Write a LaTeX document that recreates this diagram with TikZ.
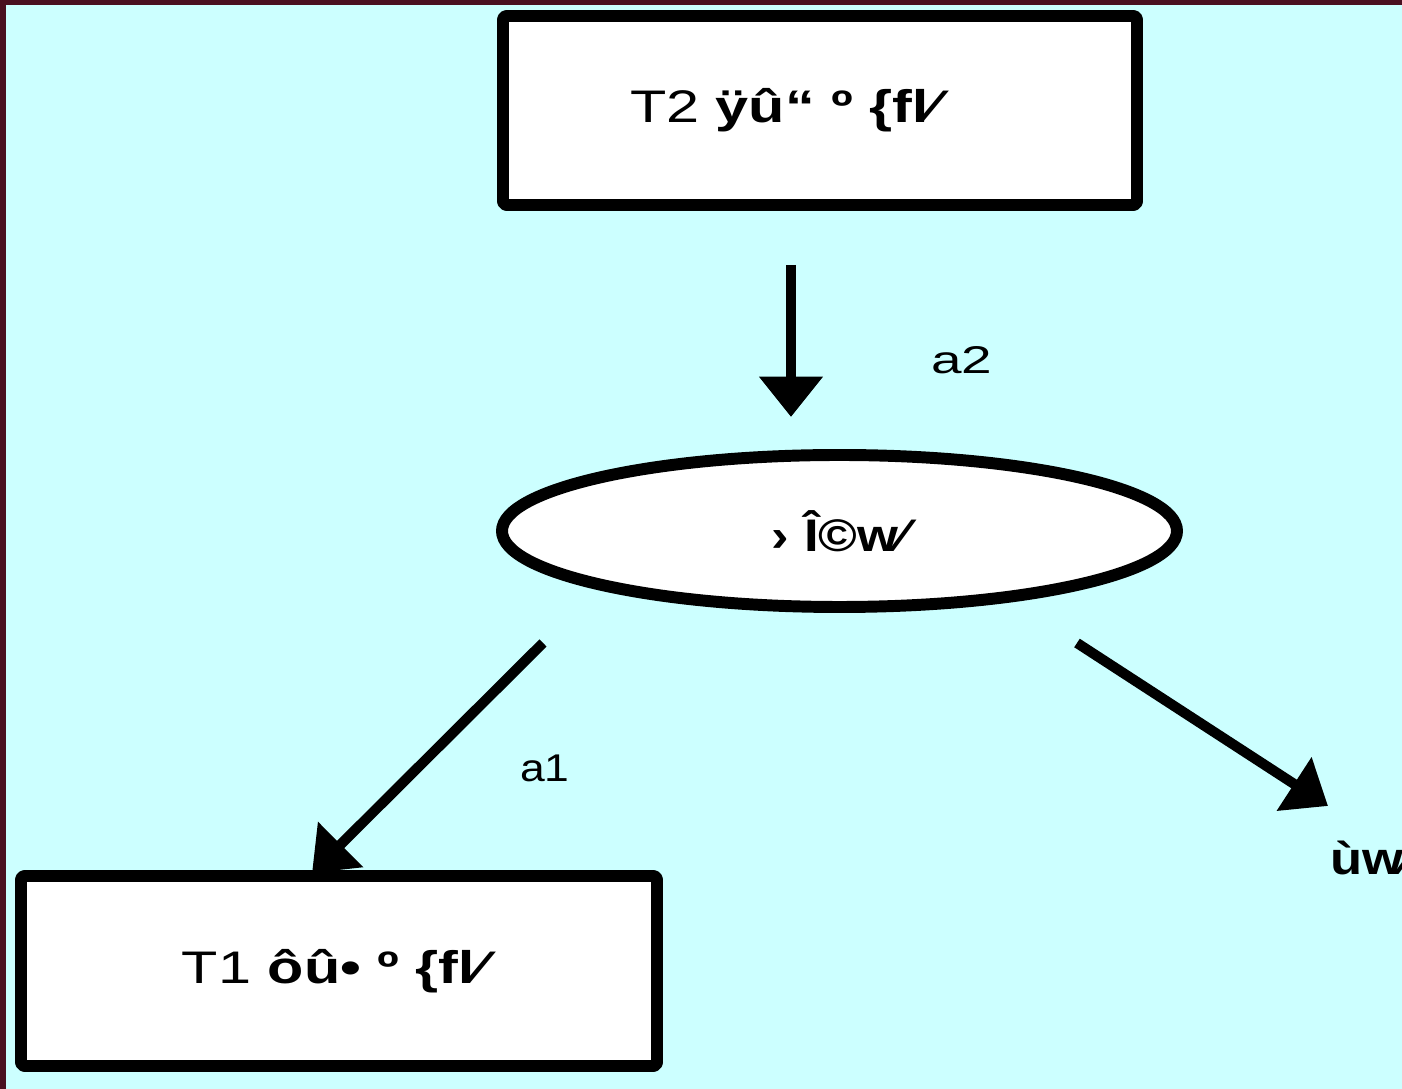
\documentclass[tikz,border=0pt]{standalone}
\usepackage{fontspec}
\setmainfont{Liberation Sans}
\newfontfamily\widefont[FakeStretch=1.42]{Liberation Sans}
\newfontfamily\boxfont[FakeStretch=1.3]{Liberation Sans}
\newfontfamily\midfont[FakeStretch=1.15]{Liberation Sans}
\usetikzlibrary{arrows.meta, positioning, shapes.geometric}

\definecolor{frameRed}{RGB}{74,16,32}
\definecolor{paleCyan}{RGB}{204,255,255}

\begin{document}
\begin{tikzpicture}[line join=round,
    box/.style={draw, line width=3.4pt, fill=white, rounded corners=1pt, inner sep=0pt},
    flow/.style={line width=2.9pt, -{Triangle[length=11.5pt, width=17.5pt]}},
    lbl/.style={font=\widefont\fontsize{11pt}{13pt}\selectfont, inner sep=0pt}]
    % Draw the background
    \fill[frameRed] (0,0) rectangle (14.02,-10.89);
    \fill[paleCyan] (0.06,-0.05) rectangle (14.02,-10.89);
    \useasboundingbox (0,0) rectangle (14.02,-10.89);

    % Draw the boxes and the ellipse
    \node[box, minimum width=6.34cm, minimum height=1.89cm,
      font=\boxfont\fontsize{13pt}{15pt}\selectfont] (t2) at (8.20,-1.105)
      {\hspace*{-0.6cm}T2 \textbf{ÿû“ º \{ﬂ⁄}};
    \node[box, minimum width=6.36cm, minimum height=1.90cm,
      font=\boxfont\fontsize{13pt}{15pt}\selectfont] (t1) at (3.39,-9.71)
      {T1 \textbf{ôû• º \{ﬂ⁄}};
    \node[box, ellipse, minimum width=6.75cm, minimum height=1.52cm,
      font=\midfont\fontsize{13pt}{15pt}\selectfont\bfseries] (gate) at (8.395,-5.31)
      {› Î©w⁄};
    \node[anchor=west, inner sep=0pt, font=\midfont\fontsize{13pt}{15pt}\selectfont\bfseries]
      (out) at (13.30,-8.58) {ùw⁄};

    % Draw the arrows
    \coordinate (a2s) at (7.91,-2.65);
    \coordinate (a2e) at (7.91,-4.17);
    \coordinate (a1s) at (5.43,-6.43);
    \coordinate (a1e) at (3.12,-8.73);
    \coordinate (a3s) at (10.77,-6.43);
    \coordinate (a3e) at (13.28,-8.06);
    \draw[flow] (a2s) -- (a2e);
    \draw[flow] (a1s) -- (a1e);
    \draw[flow] (a3s) -- (a3e);

    % Draw the labels
    \node[lbl] (lab2) at (9.62,-3.60) {a2};
    \node[lbl, font=\midfont\fontsize{11pt}{13pt}\selectfont] (lab1) at (5.45,-7.68) {a1};
\end{tikzpicture}
\end{document}
